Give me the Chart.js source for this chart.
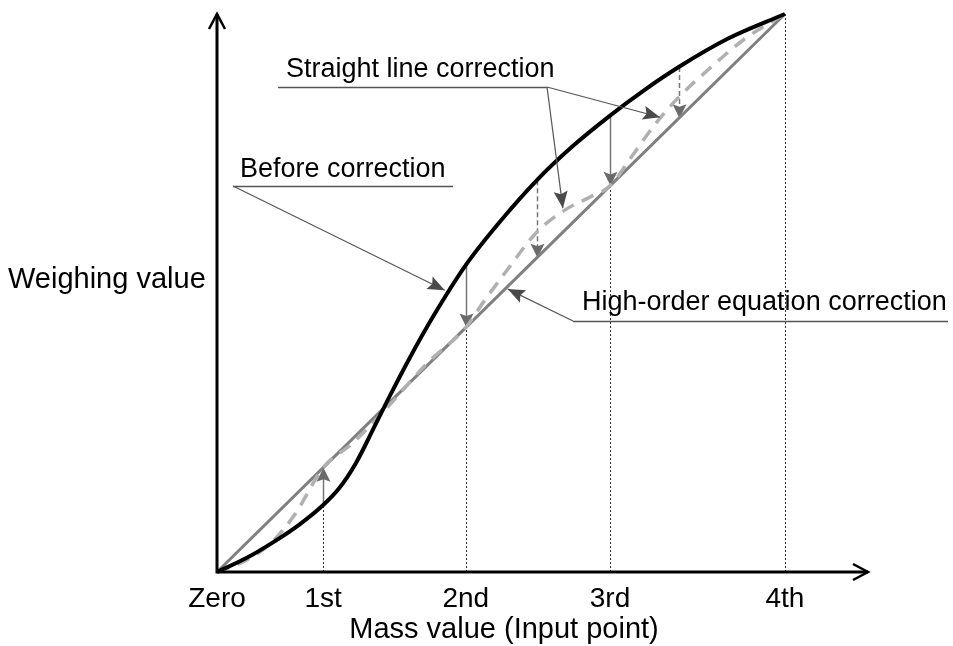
<!DOCTYPE html>
<html>
<head>
<meta charset="utf-8">
<script src="https://cdn.jsdelivr.net/npm/chart.js@4.4.1/dist/chart.umd.min.js"></script>
<style>
  html, body { margin: 0; padding: 0; background: #fff; }
  canvas { display: block; }
</style>
</head>
<body>
<canvas id="chart" width="953" height="646"></canvas>
<script>
// input points on the mass axis (4th = 100)
const tickValues = [0, 18.7, 43.8, 69.2, 100];
const tickLabels = ["Zero", "1st", "2nd", "3rd", "4th"];

// weighing value before correction (S-shaped)
const beforeX = [0, 5, 10, 14.5, 18.7, 21.5, 24.5, 27.5, 30.5, 34, 38, 43.8, 50, 56.3, 62.5, 69.2, 75, 81.3, 90, 100];
const beforeY = [0, 2.4, 5.4, 8.5, 12.0, 15.0, 19.6, 25.6, 31.7, 38.5, 45.7, 55.0, 63.0, 70.2, 76.2, 81.8, 86.2, 90.5, 95.6, 100];

// after straight line correction (piecewise between input points)
const straightX = [0, 4.9, 9.3, 13.7, 18.7, 24.0, 30.0, 37.0, 43.8, 47.0, 51.0, 56.3, 61.3, 65.7, 69.2, 72.7, 77.1, 81.3, 86.8, 93.0, 100];
const straightY = [0, 2.0, 5.0, 10.3, 18.7, 23.2, 29.5, 37.4, 43.8, 48.5, 54.0, 60.9, 64.9, 67.2, 69.2, 74.0, 80.2, 85.1, 90.3, 95.6, 100];

// after high-order equation correction
const highOrderX = [0, 18.7, 43.8, 69.2, 100];
const highOrderY = [0, 18.7, 43.8, 69.2, 100];

// where the dashed check arrows sit
const checkPoints = [56.3, 81.3];

const toPoints = (xs, ys) => xs.map((v, i) => ({ x: v, y: ys[i] }));

const valueAt = (xs, ys, v) => {
  for (let i = 1; i < xs.length; i++) {
    if (v <= xs[i]) {
      const t = (v - xs[i - 1]) / (xs[i] - xs[i - 1]);
      return ys[i - 1] + t * (ys[i] - ys[i - 1]);
    }
  }
  return ys[ys.length - 1];
};

const FONT = '"Liberation Sans", Arial, sans-serif';

const notes = [
  { text: "Straight line correction", tx: 286, ty: 77, ux: [278, 547], uy: 87, from: [547, 87], tips: [[60.9, 65.2], [78.0, 81.5]] },
  { text: "Before correction", tx: 240, ty: 177, ux: [233, 453], uy: 186, from: [233, 186], tips: [[40.1, 50.5]] },
  { text: "High-order equation correction", tx: 582, ty: 310, ux: [573, 948], uy: 321, from: [573, 321], tips: [[51.2, 50.7]] },
];

function arrowHead(ctx, fx, fy, tx, ty, len, half, color) {
  const a = Math.atan2(ty - fy, tx - fx);
  const cos = Math.cos(a), sin = Math.sin(a);
  const bx = tx - len * cos, by = ty - len * sin;
  ctx.beginPath();
  ctx.moveTo(tx, ty);
  ctx.lineTo(bx - half * sin, by + half * cos);
  ctx.lineTo(tx - len * 0.82 * cos, ty - len * 0.82 * sin);
  ctx.lineTo(bx + half * sin, by - half * cos);
  ctx.closePath();
  ctx.fillStyle = color;
  ctx.fill();
}

const diagram = {
  id: "diagram",
  beforeDatasetsDraw(chart) {
    const { ctx, scales: { x, y } } = chart;
    const y0 = y.getPixelForValue(0);
    ctx.save();

    // dotted guides from the axis to the lower curve
    ctx.strokeStyle = "#333";
    ctx.lineWidth = 1;
    ctx.setLineDash([2, 2]);
    tickValues.slice(1).forEach((v) => {
      const top = Math.min(valueAt(beforeX, beforeY, v), valueAt(highOrderX, highOrderY, v));
      const px = Math.round(x.getPixelForValue(v)) + 0.5;
      ctx.beginPath();
      ctx.moveTo(px, y0);
      ctx.lineTo(px, y.getPixelForValue(top));
      ctx.stroke();
    });

    // correction arrows: solid at input points, dashed between them
    const arrows = tickValues.slice(1, 4).map((v) => ({ v, dash: [] }))
      .concat(checkPoints.map((v) => ({ v, dash: [5, 3] })));
    arrows.forEach(({ v, dash }) => {
      const px = Math.round(x.getPixelForValue(v)) + 0.5;
      const fy = y.getPixelForValue(valueAt(beforeX, beforeY, v));
      const ty = y.getPixelForValue(valueAt(highOrderX, highOrderY, v));
      const dir = Math.sign(ty - fy);
      ctx.setLineDash(dash);
      ctx.strokeStyle = "#777";
      ctx.lineWidth = 1.5;
      ctx.beginPath();
      ctx.moveTo(px, fy);
      ctx.lineTo(px, ty - dir * 8);
      ctx.stroke();
      ctx.setLineDash([]);
      arrowHead(ctx, px, fy, px, ty, 14, 7, "#6a6a6a");
    });
    ctx.restore();
  },
  afterDatasetsDraw(chart) {
    const { ctx, scales: { x, y } } = chart;
    const x0 = x.getPixelForValue(0), y0 = y.getPixelForValue(0);
    const xEnd = x.right, yEnd = y.top;
    ctx.save();

    // axes with open arrow heads
    ctx.strokeStyle = "#000";
    ctx.lineWidth = 3;
    ctx.lineCap = "butt";
    ctx.beginPath();
    ctx.moveTo(x0, y0);
    ctx.lineTo(x0, yEnd + 1);
    ctx.moveTo(x0 - 1.5, y0);
    ctx.lineTo(xEnd - 1, y0);
    ctx.stroke();
    ctx.lineWidth = 2.5;
    ctx.lineJoin = "miter";
    ctx.beginPath();
    ctx.moveTo(x0 - 8, yEnd + 16);
    ctx.lineTo(x0, yEnd + 1);
    ctx.lineTo(x0 + 8, yEnd + 16);
    ctx.moveTo(xEnd - 16, y0 - 8);
    ctx.lineTo(xEnd - 1, y0);
    ctx.lineTo(xEnd - 16, y0 + 8);
    ctx.stroke();

    // tick labels and axis titles
    ctx.fillStyle = "#000";
    ctx.font = "28px " + FONT;
    ctx.textAlign = "center";
    ctx.textBaseline = "alphabetic";
    tickValues.forEach((v, i) => {
      ctx.fillText(tickLabels[i], x.getPixelForValue(v), 607);
    });
    ctx.font = "29px " + FONT;
    ctx.fillText("Mass value (Input point)", 504, 638);
    ctx.textAlign = "left";
    ctx.fillText("Weighing value", 8, 288);

    // callouts
    notes.forEach((n) => {
      ctx.font = "27px " + FONT;
      ctx.fillStyle = "#000";
      ctx.textAlign = "left";
      ctx.fillText(n.text, n.tx, n.ty);
      ctx.strokeStyle = "#555";
      ctx.lineWidth = 1.3;
      ctx.beginPath();
      ctx.moveTo(n.ux[0], n.uy + 0.5);
      ctx.lineTo(n.ux[1], n.uy + 0.5);
      ctx.stroke();
      n.tips.forEach(([tv, tw]) => {
        const tx = x.getPixelForValue(tv), ty = y.getPixelForValue(tw);
        ctx.strokeStyle = "#555";
        ctx.lineWidth = 1.2;
        ctx.beginPath();
        ctx.moveTo(n.from[0], n.from[1]);
        ctx.lineTo(tx, ty);
        ctx.stroke();
        arrowHead(ctx, n.from[0], n.from[1], tx, ty, 17, 7, "#4a4a4a");
      });
    });
    ctx.restore();
  },
};

new Chart(document.getElementById("chart").getContext("2d"), {
  type: "scatter",
  data: {
    datasets: [
      {
        label: "Before correction",
        data: toPoints(beforeX, beforeY),
        showLine: true,
        borderColor: "#000",
        borderWidth: 4,
        pointRadius: 0,
        cubicInterpolationMode: "monotone",
        order: 1,
      },
      {
        label: "Straight line correction",
        data: toPoints(straightX, straightY),
        showLine: true,
        borderColor: "#b0b0b0",
        borderWidth: 3.5,
        borderDash: [13, 9],
        pointRadius: 0,
        cubicInterpolationMode: "monotone",
        order: 2,
      },
      {
        label: "High-order equation correction",
        data: toPoints(highOrderX, highOrderY),
        showLine: true,
        borderColor: "#808080",
        borderWidth: 3,
        pointRadius: 0,
        order: 3,
      },
    ],
  },
  options: {
    responsive: false,
    animation: false,
    layout: { padding: { left: 217, right: 84, top: 13, bottom: 74 } },
    scales: {
      x: { type: "linear", display: false, min: 0, max: 114.8 },
      y: { type: "linear", display: false, min: 0, max: 100.18 },
    },
    plugins: {
      legend: { display: false },
      tooltip: { enabled: false },
    },
    clip: false,
  },
  plugins: [diagram],
});
</script>
</body>
</html>
